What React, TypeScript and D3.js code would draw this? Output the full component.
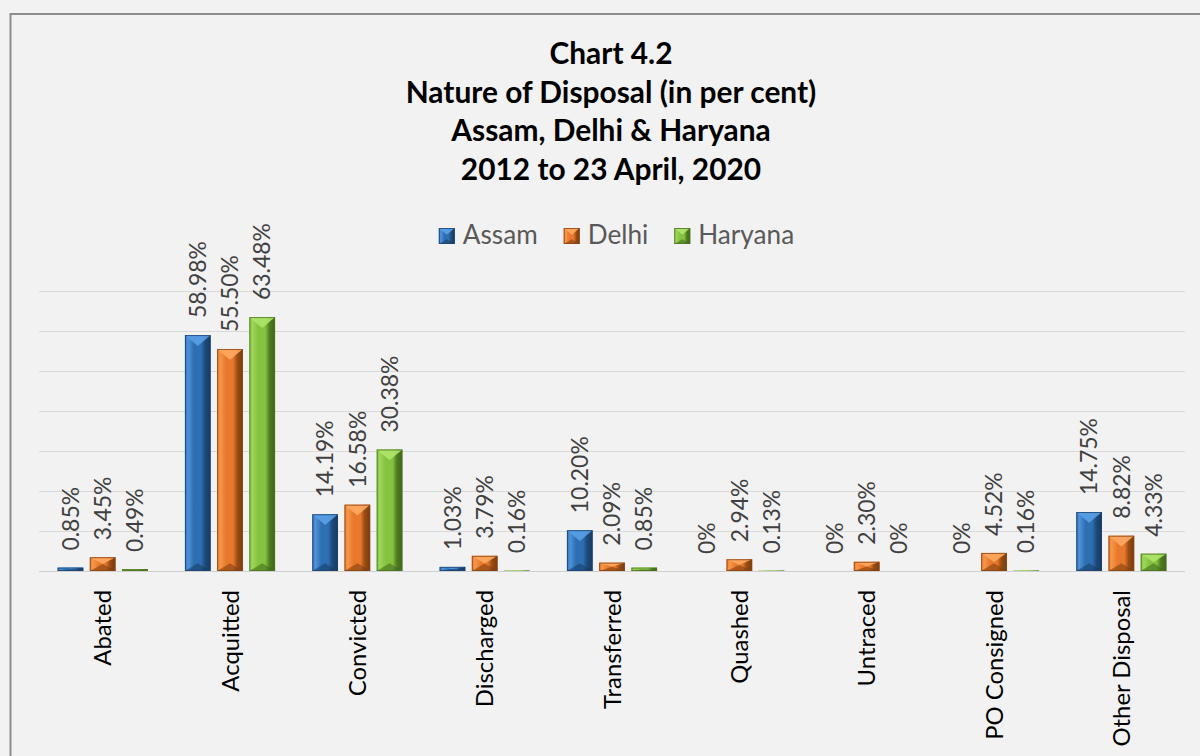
import React from "react";
import * as d3 from "d3";

const categories = ["Abated", "Acquitted", "Convicted", "Discharged", "Transferred", "Quashed", "Untraced", "PO Consigned", "Other Disposal"];
const seriesNames = ["Assam", "Delhi", "Haryana"];
const assam = [0.85, 58.98, 14.19, 1.03, 10.2, 0, 0, 0, 14.75];
const delhi = [3.45, 55.5, 16.58, 3.79, 2.09, 2.94, 2.3, 4.52, 8.82];
const haryana = [0.49, 63.48, 30.38, 0.16, 0.85, 0.13, 0, 0.16, 4.33];
const yTicks = [0, 10, 20, 30, 40, 50, 60, 70];
const titleLines = ["Chart 4.2", "Nature of Disposal (in per cent)", "Assam, Delhi & Haryana", "2012 to 23 April, 2020"];

const W = 1200;
const H = 756;
const FONT = "Lato, 'Open Sans', sans-serif";

const palettes = [
  { base: "#2e6fb3", light: "#4f93d8", lighter: "#5aa0e6", dark: "#1d4a7a", darker: "#163a60", stroke: "#1b4470" },
  { base: "#e8792c", light: "#f6964a", lighter: "#ffa862", dark: "#9a4d14", darker: "#7a3a0c", stroke: "#8a4412" },
  { base: "#84c23f", light: "#9ed65a", lighter: "#aee46a", dark: "#4f7d22", darker: "#3f661a", stroke: "#4a7420" },
];

let ctx: CanvasRenderingContext2D | null = null;
function measure(text: string, weight: string, size: number) {
  if (!ctx && typeof document !== "undefined") {
    ctx = document.createElement("canvas").getContext("2d");
  }
  if (!ctx) return text.length * size * 0.5;
  ctx.font = `${weight} ${size}px Lato`;
  return ctx.measureText(text).width;
}
function fitSize(text: string, weight: string, target: number) {
  return (100 * target) / measure(text, weight, 100);
}

function fmt(v: number) {
  return v === 0 ? "0%" : v.toFixed(2) + "%";
}

function Bar({ x, y, w, h, p, id }: { x: number; y: number; w: number; h: number; p: any; id: string }) {
  if (h <= 0) return null;
  const d = Math.min(w * 0.32, h / 2);
  const cx = x + w / 2;
  const top = `${x},${y} ${x + w},${y} ${x + w - d},${y + d} ${x + d},${y + d}`;
  const topTri = `${x},${y} ${x + w},${y} ${cx},${y + Math.min(w * 0.42, h / 2)}`;
  const bot = `${x},${y + h} ${x + w},${y + h} ${cx},${y + h - Math.min(w * 0.3, h / 2)}`;
  return (
    <g>
      <rect x={x} y={y} width={w} height={h} fill={`url(#grad-${id})`} />
      <polygon points={bot} fill={p.darker} opacity={0.55} />
      <polygon points={topTri} fill={p.lighter} opacity={0.9} />
      <rect x={x + 0.5} y={y + 0.5} width={w - 1} height={Math.max(h - 1, 0)} fill="none" stroke={p.stroke} strokeWidth={1} opacity={0.8} />
    </g>
  );
}

export default function App() {
  const series = [assam, delhi, haryana];
  const x0 = d3.scaleBand<string>().domain(categories).range([39, 1185]).paddingInner(0).paddingOuter(0);
  const y = d3.scaleLinear().domain([0, 70]).range([571, 291]);
  const bw = x0.bandwidth();
  const barW = bw * 0.202;
  const step = bw * 0.253;

  const valSize = fitSize("63.48%", "400", 77);
  const catSize = fitSize("Other Disposal", "400", 157);
  const titleSize = fitSize(titleLines[1], "700", 412);
  const legSize = fitSize("Haryana", "400", 96);

  // legend layout
  const sq = 16;
  const items = seriesNames.map((n) => ({ n, tw: measure(n, "400", legSize) }));
  const gapText = 8;
  const gapItem = 26;
  const total = items.reduce((s, it) => s + sq + gapText + it.tw, 0) + gapItem * (items.length - 1);
  let lx = 616.5 - total / 2;
  const legendItems = items.map((it, i) => {
    const r = { ...it, x: lx, i };
    lx += sq + gapText + it.tw + gapItem;
    return r;
  });

  return (
    <svg width={W} height={H} style={{ position: "absolute", left: 0, top: 0 }} xmlns="http://www.w3.org/2000/svg">
      <defs>
        {palettes.map((p, i) => (
          <linearGradient key={i} id={`grad-${i}`} x1="0" x2="1" y1="0" y2="0">
            <stop offset="0%" stopColor={p.base} />
            <stop offset="12%" stopColor={p.light} />
            <stop offset="35%" stopColor={p.base} />
            <stop offset="62%" stopColor={p.base} />
            <stop offset="78%" stopColor={p.dark} />
            <stop offset="100%" stopColor={p.darker} />
          </linearGradient>
        ))}
      </defs>
      <rect x={0} y={0} width={W} height={H} fill="#f2f2f2" />
      <rect x={10.5} y={14} width={1250} height={800} fill="#f2f2f2" stroke="#8c8c8c" strokeWidth={2} />

      {/* title */}
      {titleLines.map((t, i) => (
        <text key={i} x={611} y={64 + i * 38.5} textAnchor="middle" fontFamily={FONT} fontWeight={700} fontSize={titleSize} fill="#000">
          {t}
        </text>
      ))}

      {/* legend */}
      {legendItems.map((it) => (
        <g key={it.n}>
          <Bar x={it.x} y={228} w={sq} h={sq} p={palettes[it.i]} id={String(it.i)} />
          <text x={it.x + sq + gapText} y={244} fontFamily={FONT} fontSize={legSize} fill="#595959">
            {it.n}
          </text>
        </g>
      ))}

      {/* gridlines */}
      {yTicks.map((t) => (
        <line key={t} x1={39} x2={1185} y1={y(t) + 0.5} y2={y(t) + 0.5} stroke={t === 0 ? "#cfcfcf" : "#d9d9d9"} strokeWidth={1} />
      ))}

      {/* bars */}
      {categories.map((c, ci) => {
        const cx = (x0(c) as number) + bw / 2;
        return (
          <g key={c}>
            {series.map((s, si) => {
              const bc = cx + (si - 1) * step;
              const v = s[ci];
              const top = y(v);
              return (
                <g key={si}>
                  <Bar x={bc - barW / 2} y={top} w={barW} h={y(0) - top} p={palettes[si]} id={String(si)} />
                  <text
                    transform={`translate(${bc},${top - 17}) rotate(-90)`}
                    dy="0.36em"
                    textAnchor="start"
                    fontFamily={FONT}
                    fontSize={valSize}
                    fill="#404040"
                  >
                    {fmt(v)}
                  </text>
                </g>
              );
            })}
            <text
              transform={`translate(${cx},590) rotate(-90)`}
              dy="0.36em"
              textAnchor="end"
              fontFamily={FONT}
              fontSize={catSize}
              fill="#000"
            >
              {c}
            </text>
          </g>
        );
      })}
    </svg>
  );
}
